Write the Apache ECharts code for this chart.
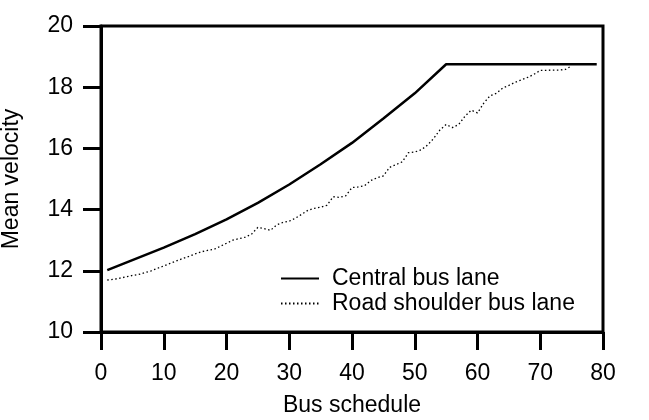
<!DOCTYPE html>
<html>
<head>
<meta charset="utf-8">
<script src="https://cdn.jsdelivr.net/npm/echarts@6/dist/echarts.min.js"></script>
<style>html,body{margin:0;padding:0;background:#fff}#c{width:649px;height:420px}</style>
</head>
<body>
<div id="c"></div>
<script>
var xTicks = [0, 10, 20, 30, 40, 50, 60, 70, 80];
var yTicks = [10, 12, 14, 16, 18, 20];
var centralX = [1, 5, 10, 15, 20, 25, 30, 35, 40, 45, 50, 55, 79];
var centralY = [12.02, 12.35, 12.76, 13.20, 13.68, 14.22, 14.82, 15.48, 16.18, 16.98, 17.80, 18.75, 18.75];
var shoulderX = [1,2,3,4,5,6,7,8,9,10,11,12,13,14,15,16,17,18,19,20,21,22,23,24,25,26,27,28,29,30,31,32,33,34,35,36,37,38,39,40,41,42,43,44,45,46,47,48,49,50,51,52,53,54,55,56,57,58,59,60,61,62,63,64,65,66,67,68,69,70,71,72,73,74,75];
var shoulderY = [11.70,11.72,11.76,11.80,11.85,11.88,11.94,12.00,12.08,12.16,12.24,12.32,12.40,12.47,12.55,12.62,12.67,12.70,12.80,12.90,13.00,13.05,13.10,13.20,13.42,13.38,13.32,13.50,13.58,13.62,13.72,13.85,13.98,14.04,14.08,14.14,14.42,14.40,14.45,14.72,14.74,14.78,14.95,15.04,15.10,15.38,15.47,15.56,15.86,15.88,15.95,16.10,16.32,16.60,16.78,16.68,16.78,17.05,17.25,17.16,17.48,17.72,17.80,17.97,18.06,18.16,18.24,18.32,18.42,18.55,18.55,18.56,18.56,18.58,18.70];
var seriesNames = ['Central bus lane', 'Road shoulder bus lane'];

function pairs(xs, ys) { return xs.map(function (x, i) { return [x, ys[i]]; }); }

var font = 'Liberation Sans, Arial, sans-serif';
var fs = 23;
var chart = echarts.init(document.getElementById('c'), null, {renderer: 'canvas'});
chart.setOption({
  animation: false,
  backgroundColor: '#fff',
  grid: {left: 101, right: 46, top: 26, bottom: 88, show: true, borderColor: '#000', borderWidth: 3,
         containLabel: false, outerBoundsMode: 'none'},
  legend: {
    orient: 'vertical', left: 280, top: 267, padding: 0, itemWidth: 38, itemHeight: 2, itemGap: 2,
    data: seriesNames,
    itemStyle: {opacity: 0},
    textStyle: {fontFamily: font, fontSize: fs, lineHeight: 23, color: '#000', padding: [0, 0, 0, 8]}
  },
  xAxis: {
    type: 'value', min: xTicks[0], max: xTicks[xTicks.length - 1], interval: 10,
    name: 'Bus schedule', nameLocation: 'middle', nameGap: 62,
    nameTextStyle: {fontFamily: font, fontSize: fs, color: '#000'},
    axisLine: {show: true, lineStyle: {color: '#000', width: 3}},
    axisTick: {show: true, length: 18, lineStyle: {color: '#000', width: 3}},
    axisLabel: {margin: 30, fontFamily: font, fontSize: fs, color: '#000'},
    splitLine: {show: false}
  },
  yAxis: {
    type: 'value', min: yTicks[0], max: yTicks[yTicks.length - 1], interval: 2,
    name: 'Mean velocity', nameLocation: 'middle', nameGap: 78,
    nameTextStyle: {fontFamily: font, fontSize: fs, color: '#000'},
    axisLine: {show: true, lineStyle: {color: '#000', width: 3}},
    axisTick: {show: true, length: 18, lineStyle: {color: '#000', width: 3}},
    axisLabel: {margin: 28, fontFamily: font, fontSize: fs, color: '#000'},
    splitLine: {show: false}
  },
  series: [
    {name: seriesNames[0], type: 'line', symbol: 'none', data: pairs(centralX, centralY),
     lineStyle: {color: '#000', width: 2.5}, itemStyle: {color: '#000'}},
    {name: seriesNames[1], type: 'line', symbol: 'none', data: pairs(shoulderX, shoulderY),
     lineStyle: {color: '#000', width: 1.3, type: [1.5, 2.5]}, itemStyle: {color: '#000'}}
  ]
});
</script>
</body>
</html>
